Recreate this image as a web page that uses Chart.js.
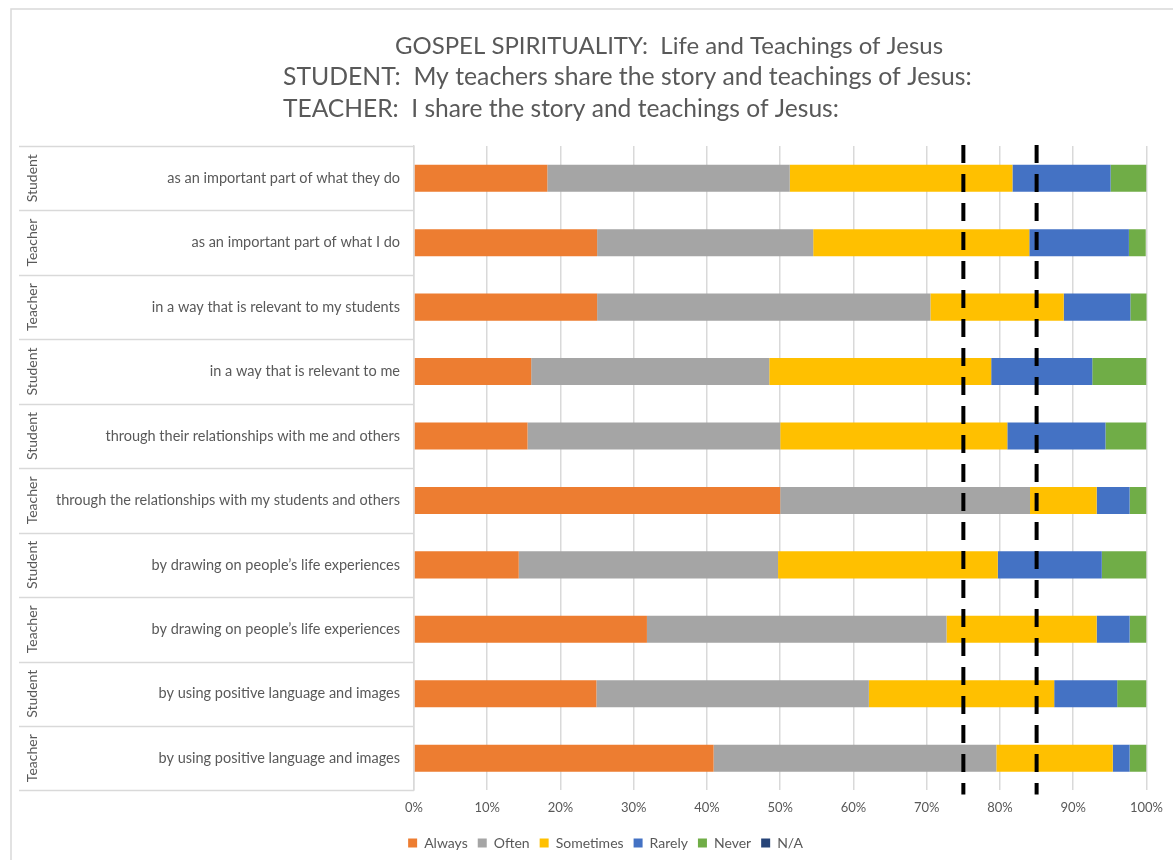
<!DOCTYPE html>
<html>
<head>
<meta charset="utf-8">
<script src="https://cdn.jsdelivr.net/npm/chart.js@4.4.1/dist/chart.umd.min.js"></script>
<style>
  body { margin: 0; background: #fff; }
  #wrap { position: relative; width: 1173px; height: 860px; }
</style>
</head>
<body>
<div id="wrap"><canvas id="gospelChart"></canvas></div>
<script>
// title lines
const titleLines = [
  "GOSPEL SPIRITUALITY:  Life and Teachings of Jesus",
  "STUDENT:  My teachers share the story and teachings of Jesus:",
  "TEACHER:  I share the story and teachings of Jesus:"
];

// who answered each row
const groups = ["Student", "Teacher", "Teacher", "Student", "Student", "Teacher", "Student", "Teacher", "Student", "Teacher"];

// statements
const categories = [
  "as an important part of what they do",
  "as an important part of what I do",
  "in a way that is relevant to my students",
  "in a way that is relevant to me",
  "through their relationships with me and others",
  "through the relationships with my students and others",
  "by drawing on people\u2019s life experiences",
  "by drawing on people\u2019s life experiences",
  "by using positive language and images",
  "by using positive language and images"
];

// percentages per answer
const always = [18.2, 25.0, 25.0, 16.0, 15.5, 50.0, 14.3, 31.8, 24.9, 40.9];
const often = [33.1, 29.5, 45.5, 32.5, 34.5, 34.1, 35.4, 40.9, 37.2, 38.6];
const sometimes = [30.4, 29.5, 18.2, 30.3, 31.0, 9.1, 30.0, 20.5, 25.3, 15.9];
const rarely = [13.4, 13.6, 9.1, 13.8, 13.4, 4.5, 14.2, 4.5, 8.6, 2.3];
const never = [4.9, 2.3, 2.3, 7.4, 5.6, 2.3, 6.1, 2.3, 4.0, 2.3];
const notApplicable = [0, 0, 0, 0, 0, 0, 0, 0, 0, 0];

// dashed reference lines (percent)
const benchmarks = [75, 85];

const textGray = "#595959";
const lineGray = "#d9d9d9";
const fontFamily = "Lato, 'Open Sans', sans-serif";

// title, frame, group labels and row lines
const decorPlugin = {
  id: "decor",
  beforeDraw(chart) {
    const ctx = chart.ctx;
    ctx.save();
    ctx.strokeStyle = lineGray;
    ctx.lineWidth = 1.5;
    ctx.beginPath();
    ctx.moveTo(11, 860);
    ctx.lineTo(11, 9);
    ctx.lineTo(1173, 9);
    ctx.stroke();

    // title
    ctx.fillStyle = textGray;
    ctx.textBaseline = "alphabetic";
    ctx.textAlign = "left";
    const starts = [395, 283, 283];
    const widths = [548, 689, 556];
    const baselines = [54, 85, 117];
    for (let i = 0; i < titleLines.length; i++) {
      ctx.font = "24px " + fontFamily;
      const w = ctx.measureText(titleLines[i]).width;
      const size = 24 * widths[i] / w;
      ctx.font = size.toFixed(2) + "px " + fontFamily;
      ctx.fillText(titleLines[i], starts[i], baselines[i]);
    }
    ctx.restore();
  },
  afterDraw(chart) {
    const ctx = chart.ctx;
    const y = chart.scales.y;
    const area = chart.chartArea;
    const step = y.getPixelForValue(1) - y.getPixelForValue(0);
    ctx.save();
    ctx.strokeStyle = lineGray;
    ctx.lineWidth = 1.5;
    for (let i = 0; i <= categories.length; i++) {
      const yy = Math.round(y.getPixelForValue(i) - step / 2) + 0.5;
      ctx.beginPath();
      ctx.moveTo(19, yy);
      ctx.lineTo(area.left, yy);
      ctx.stroke();
    }
    // group labels
    ctx.fillStyle = textGray;
    ctx.font = "14px " + fontFamily;
    ctx.textAlign = "center";
    ctx.textBaseline = "middle";
    for (let i = 0; i < groups.length; i++) {
      ctx.save();
      ctx.translate(32, y.getPixelForValue(i));
      ctx.rotate(-Math.PI / 2);
      ctx.fillText(groups[i], 0, 0);
      ctx.restore();
    }
    ctx.restore();
  },
  afterDatasetsDraw(chart) {
    const ctx = chart.ctx;
    const x = chart.scales.x;
    const area = chart.chartArea;
    ctx.save();
    ctx.strokeStyle = "#000";
    ctx.lineWidth = 4;
    ctx.setLineDash([18, 11]);
    benchmarks.forEach(function (b) {
      const xx = x.getPixelForValue(b);
      ctx.beginPath();
      ctx.moveTo(xx, area.top - 1);
      ctx.lineTo(xx, area.bottom + 4);
      ctx.stroke();
    });
    ctx.restore();
  }
};

function makeSet(label, data, color) {
  return {
    label: label,
    data: data,
    backgroundColor: color,
    borderWidth: 0,
    barPercentage: 0.42,
    categoryPercentage: 1
  };
}

const ctx = document.getElementById("gospelChart");

new Chart(ctx, {
  type: "bar",
  data: {
    labels: categories,
    datasets: [
      makeSet("Always", always, "#ED7D31"),
      makeSet("Often", often, "#A5A5A5"),
      makeSet("Sometimes", sometimes, "#FFC000"),
      makeSet("Rarely", rarely, "#4472C4"),
      makeSet("Never", never, "#70AD47"),
      makeSet("N/A", notApplicable, "#264478")
    ]
  },
  options: {
    indexAxis: "y",
    responsive: true,
    maintainAspectRatio: false,
    animation: false,
    layout: { padding: { left: 40, right: 2, top: 146, bottom: 0 } },
    scales: {
      x: {
        stacked: true,
        min: 0,
        max: 100,
        ticks: {
          stepSize: 10,
          color: textGray,
          font: { family: fontFamily, size: 13 },
          padding: 10,
          callback: function (v) { return v + "%"; }
        },
        grid: { color: lineGray, lineWidth: 1.5, drawTicks: false },
        border: { display: false }
      },
      y: {
        stacked: true,
        ticks: {
          color: textGray,
          font: { family: fontFamily, size: 14.5 },
          padding: 6
        },
        grid: { display: false },
        border: { display: true, color: lineGray, width: 1.5 },
        afterFit: function (scale) { scale.width = 374; }
      }
    },
    plugins: {
      legend: {
        position: "bottom",
        labels: {
          boxWidth: 9,
          boxHeight: 9,
          padding: 10,
          color: textGray,
          font: { family: fontFamily, size: 14 }
        }
      },
      tooltip: { enabled: false }
    }
  },
  plugins: [decorPlugin]
});
</script>
</body>
</html>
